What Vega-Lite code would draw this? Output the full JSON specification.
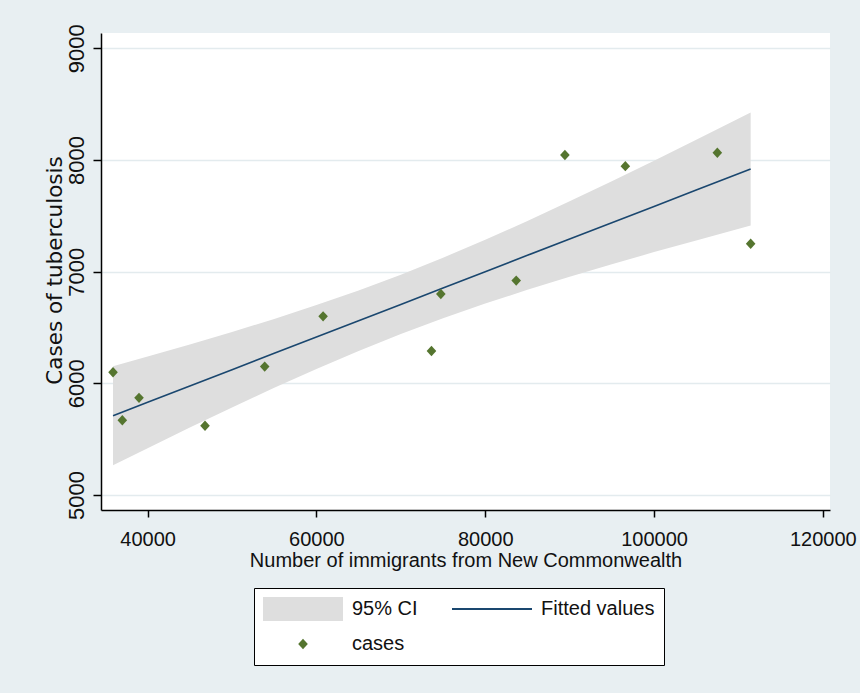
{
  "$schema": "https://vega.github.io/schema/vega-lite/v6.json",
  "width": 729,
  "height": 477,
  "autosize": {"type": "none"},
  "padding": {"left": 101, "top": 33, "right": 30, "bottom": 183},
  "background": "#e8eff2",
  "view": {"fill": "white", "stroke": null},
  "datasets": {
    "band": [
      {"x": 35900, "fit": 5710, "lo": 5266, "hi": 6154},
      {"x": 40000, "fit": 5830, "lo": 5420, "hi": 6240},
      {"x": 45000, "fit": 5976, "lo": 5604, "hi": 6348},
      {"x": 50000, "fit": 6122, "lo": 5784, "hi": 6460},
      {"x": 55000, "fit": 6269, "lo": 5960, "hi": 6577},
      {"x": 60000, "fit": 6415, "lo": 6129, "hi": 6701},
      {"x": 65000, "fit": 6561, "lo": 6290, "hi": 6832},
      {"x": 70000, "fit": 6707, "lo": 6441, "hi": 6973},
      {"x": 75000, "fit": 6853, "lo": 6582, "hi": 7125},
      {"x": 80000, "fit": 7000, "lo": 6714, "hi": 7285},
      {"x": 85000, "fit": 7146, "lo": 6837, "hi": 7454},
      {"x": 90000, "fit": 7292, "lo": 6954, "hi": 7630},
      {"x": 95000, "fit": 7438, "lo": 7066, "hi": 7810},
      {"x": 100000, "fit": 7584, "lo": 7175, "hi": 7994},
      {"x": 105000, "fit": 7731, "lo": 7280, "hi": 8181},
      {"x": 111450, "fit": 7919, "lo": 7413, "hi": 8425}
    ],
    "pts": [
      {"x": 35900, "y": 6100, "series": "cases"},
      {"x": 37000, "y": 5670, "series": "cases"},
      {"x": 38980, "y": 5870, "series": "cases"},
      {"x": 46800, "y": 5620, "series": "cases"},
      {"x": 53870, "y": 6150, "series": "cases"},
      {"x": 60790, "y": 6600, "series": "cases"},
      {"x": 73630, "y": 6290, "series": "cases"},
      {"x": 74740, "y": 6800, "series": "cases"},
      {"x": 83670, "y": 6920, "series": "cases"},
      {"x": 89440, "y": 8045, "series": "cases"},
      {"x": 96600, "y": 7945, "series": "cases"},
      {"x": 107500, "y": 8065, "series": "cases"},
      {"x": 111450, "y": 7250, "series": "cases"}
    ]
  },
  "layer": [
    {
      "data": {"name": "band"},
      "mark": {"type": "area", "color": "#dedede", "opacity": 1},
      "encoding": {
        "x": {
          "field": "x", "type": "quantitative",
          "scale": {"domain": [34475, 120850], "nice": false, "zero": false},
          "axis": {
            "values": [40000, 60000, 80000, 100000, 120000],
            "format": "d",
            "title": "Number of immigrants from New Commonwealth",
            "grid": false,
            "domainColor": "#000", "domainWidth": 1.5,
            "tickColor": "#000", "tickWidth": 1.5, "tickSize": 7,
            "labelFont": "Liberation Sans", "labelFontSize": 20, "labelColor": "#111",
            "labelPadding": 12, "labelFlush": false, "labelOverlap": false,
            "titleFont": "Liberation Sans", "titleFontSize": 20, "titleFontWeight": "normal",
            "titleColor": "#111", "titleBaseline": "alphabetic", "titleAlign": "center",
            "titleX": 364.5, "titleY": 56
          }
        },
        "y": {
          "field": "lo", "type": "quantitative",
          "scale": {"domain": [4866, 9137], "nice": false, "zero": false},
          "axis": {
            "values": [5000, 6000, 7000, 8000, 9000],
            "format": "d",
            "title": "Cases of tuberculosis",
            "grid": true, "gridColor": "#e3ebee", "gridWidth": 1.5,
            "domainColor": "#000", "domainWidth": 1.5,
            "tickColor": "#000", "tickWidth": 1.5, "tickSize": 8,
            "labelAngle": -90, "labelAlign": "center", "labelBaseline": "alphabetic",
            "labelPadding": 10,
            "labelFont": "Liberation Sans", "labelFontSize": 22, "labelColor": "#111",
            "labelOverlap": false,
            "titleFont": "DejaVu Sans", "titleFontSize": 21.5, "titleFontWeight": "normal",
            "titleColor": "#111", "titleAngle": -90, "titleBaseline": "alphabetic",
            "titleAlign": "center", "titleX": -40, "titleY": 237
          }
        },
        "y2": {"field": "hi"}
      }
    },
    {
      "data": {"name": "band"},
      "mark": {"type": "line", "color": "#1a476f", "strokeWidth": 1.6},
      "encoding": {
        "x": {"field": "x", "type": "quantitative"},
        "y": {"field": "fit", "type": "quantitative"}
      }
    },
    {
      "data": {"name": "pts"},
      "mark": {"type": "point", "filled": true, "opacity": 1, "size": 6400},
      "encoding": {
        "x": {"field": "x", "type": "quantitative"},
        "y": {"field": "y", "type": "quantitative"},
        "color": {
          "field": "series", "type": "nominal",
          "scale": {"domain": ["95% CI", "Fitted values", "cases"], "range": ["#dedede", "#1a476f", "#55752f"]},
          "legend": {
            "orient": "none", "legendX": 153, "legendY": 555,
            "direction": "horizontal", "columns": 2, "title": null,
            "padding": 9, "strokeColor": "#000", "fillColor": "#fff",
            "columnPadding": 34, "rowPadding": 11, "clipHeight": 24,
            "labelFont": "Liberation Sans", "labelFontSize": 20, "labelColor": "#111",
            "labelOffset": 9, "symbolSize": 6400, "symbolStrokeWidth": 0,
            "encode": {
              "legend": {"update": {"strokeWidth": {"value": 1.5}}},
              "symbols": {"update": {
                "fill": {"scale": "color", "field": "value"},
                "opacity": {"value": 1}
              }}
            }
          }
        },
        "shape": {
          "field": "series", "type": "nominal",
          "scale": {
            "domain": ["95% CI", "Fitted values", "cases"],
            "range": ["M-1,-0.3L1,-0.3L1,0.3L-1,0.3Z", "M-1,-0.022L1,-0.022L1,0.022L-1,0.022Z", "M0,-0.13L0.12,0L0,0.13L-0.12,0Z"]
          },
          "legend": {
            "orient": "none", "legendX": 153, "legendY": 555,
            "direction": "horizontal", "columns": 2, "title": null,
            "padding": 9, "strokeColor": "#000", "fillColor": "#fff",
            "columnPadding": 34, "rowPadding": 11, "clipHeight": 24,
            "labelFont": "Liberation Sans", "labelFontSize": 20, "labelColor": "#111",
            "labelOffset": 9, "symbolSize": 6400, "symbolStrokeWidth": 0,
            "encode": {
              "legend": {"update": {"strokeWidth": {"value": 1.5}}},
              "symbols": {"update": {
                "fill": {"scale": "color", "field": "value"},
                "opacity": {"value": 1}
              }}
            }
          }
        }
      }
    }
  ]
}
